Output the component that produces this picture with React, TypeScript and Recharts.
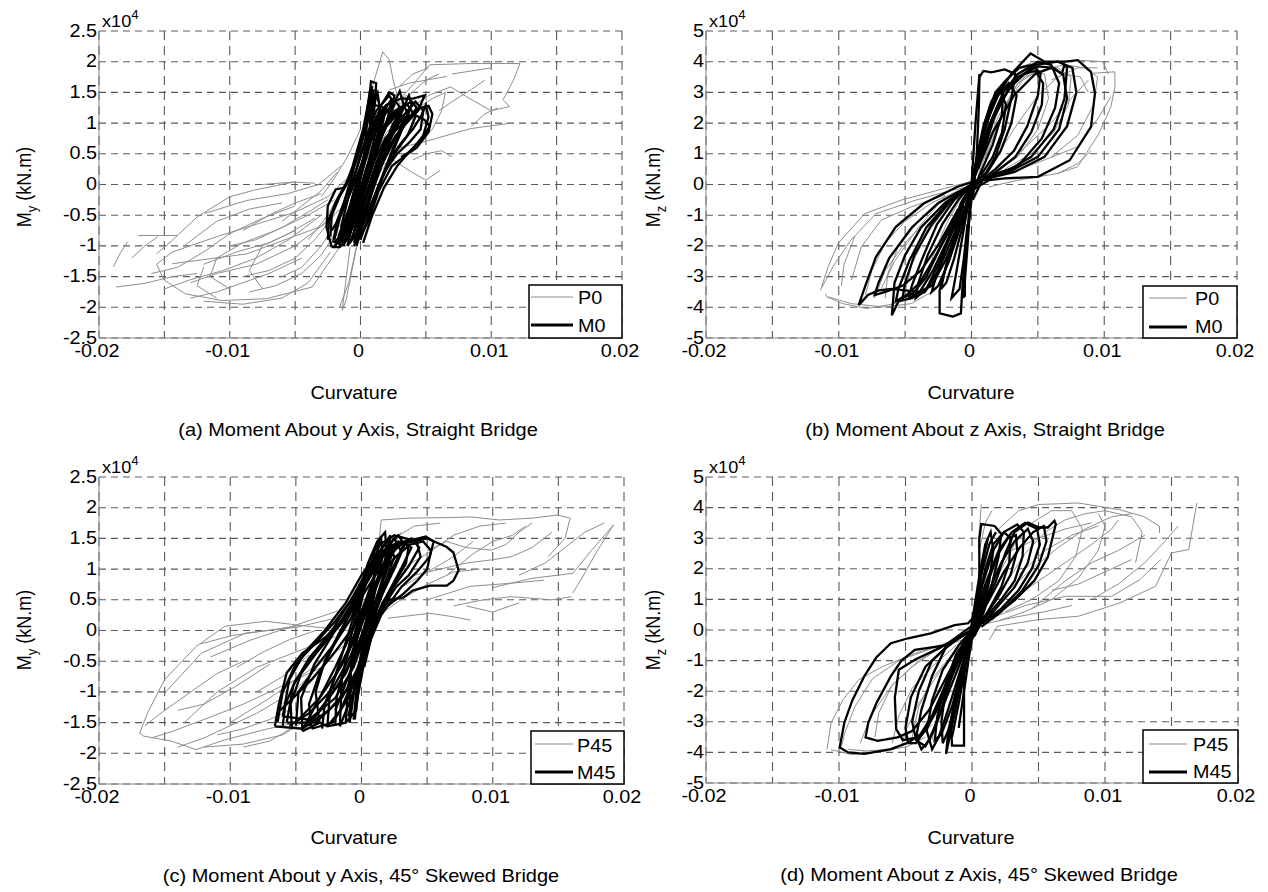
import React from 'react';
import { LineChart, Line, XAxis, YAxis, CartesianGrid } from 'recharts';

// points are [curvature x1e-3, moment x1e4 kN.m]
const curvatureTicks = [-0.02, -0.015, -0.01, -0.005, 0, 0.005, 0.01, 0.015, 0.02];
const myTicks = [-2.5, -2, -1.5, -1, -0.5, 0, 0.5, 1, 1.5, 2, 2.5];
const mzTicks = [-5, -4, -3, -2, -1, 0, 1, 2, 3, 4, 5];

// (a) straight bridge, My
const aP0 = [
  [[-0.8, -1.02], [-1.4, -2.05], [-1.1, -1.88], [-0.3, -1.02]],
  [[-0.3, -1.0], [-0.9, -1.6], [-1.6, -2.0]],
  [[-18.7, -1.67], [-16.5, -1.61], [-14.4, -1.5], [-12.5, -1.45]],
  [[-18.9, -1.34], [-18.4, -1.13], [-17.8, -0.93]],
  [[-17, -0.83], [-14, -0.83]],
  [[-15.6, -1.13], [-14.4, -0.91], [-12.5, -0.53], [-10, -0.2], [-8.1, -0.09], [-5.1, 0.04]],
  [[-7.5, 0.0], [-5.1, 0.04], [-3.5, 0.02]],
  [[-11.9, -0.47], [-8.7, -0.26], [-5.6, -0.15], [-3.2, 0.0], [-1.5, 0.3]],
  [[-1.2, -0.9], [-2.5, -1.3], [-3.7, -1.67], [-7.2, -1.86], [-10.6, -1.89], [-13.4, -1.78], [-15, -1.56], [-15.6, -1.3], [-14.4, -1.1], [-11, -0.85], [-8, -0.65], [-5, -0.45], [-2.5, -0.2], [-0.5, 0.2]],
  [[-14.4, -1.29], [-8.7, -1.13], [-3.1, -0.69], [-1, -0.3]],
  [[-13, -1.6], [-11, -1.45], [-8, -1.3], [-5, -1.0], [-2.5, -0.6]],
  [[-12, -1.9], [-9, -1.95], [-6, -1.85], [-4, -1.6], [-2.3, -1.1]],
  [[-10, -1.7], [-11.5, -1.5], [-11, -1.2], [-9, -0.95], [-6.5, -0.75], [-4, -0.5], [-2, -0.25]],
  [[-9, -1.5], [-7, -1.4], [-5, -1.2], [-3.5, -0.9], [-2, -0.5]],
  [[-7.5, -1.7], [-8.5, -1.4], [-7.5, -1.0], [-5.5, -0.8], [-3.5, -0.55]],
  [[-6, -1.5], [-4.5, -1.35], [-3, -1.0], [-1.8, -0.6]],
  [[-13.5, -1.0], [-11, -0.6], [-8.5, -0.4], [-6, -0.3]],
  [[-4, -0.9], [-2.5, -0.5], [-1, 0.1], [0.5, 0.7]],
  [[-16, -1.45], [-14, -1.35], [-12, -1.1], [-10, -0.8], [-7.5, -0.55], [-5, -0.35]],
  [[-15, -1.7], [-13, -1.55], [-10.5, -1.4], [-8, -1.2], [-5.5, -0.9], [-3, -0.5]],
  [[-13, -1.85], [-11, -1.75], [-9, -1.6], [-7, -1.45], [-4.5, -1.2]],
  [[-8.5, -1.75], [-6.5, -1.65], [-4.5, -1.45], [-3, -1.15], [-1.8, -0.75]],
  [[-10, -1.0], [-8, -0.9], [-6, -0.7], [-4, -0.45], [-2.5, -0.25]],
  [[-9, -0.75], [-7, -0.5], [-5, -0.3], [-3, -0.15]],
  [[-12, -1.3], [-9.5, -1.1], [-7, -0.95], [-5, -0.75]],
  [[-6, -0.6], [-4.5, -0.35], [-3, -0.1], [-1.8, 0.2]],
  [[-3, -0.2], [-2, 0.1], [-1, 0.45], [0, 0.9]],
  [[-17.5, -1.2], [-16.5, -1.0], [-15.5, -0.85]],
  [[-11, -1.85], [-12.5, -1.65], [-12, -1.35]],
  [[0.6, 1.3], [0.9, 1.59], [1.7, 2.16], [2.2, 2.03], [2.5, 1.7], [3.0, 1.3]],
  [[2.0, 1.2], [3.5, 1.5], [5.3, 1.95], [8.4, 1.97], [12.2, 1.97], [11.7, 1.7], [10.9, 1.38], [11.4, 1.27]],
  [[2.2, 1.54], [3.7, 1.65], [6.6, 1.76]],
  [[3.5, 1.2], [5.2, 1.45], [6.9, 1.59], [8.1, 1.43], [10, 1.2], [11.4, 1.27]],
  [[3, 0.6], [5.3, 0.72], [8.4, 0.91], [11.2, 0.99]],
  [[1.5, 0.3], [2.5, 0.4], [3.7, 0.23], [5.0, 0.07], [6.1, 0.23]],
  [[2.5, 0.9], [4, 1.2], [5.5, 1.4], [6.5, 1.5], [6.2, 1.2], [5.5, 0.9], [4.5, 0.7], [3.5, 0.5]],
  [[0.5, 0.4], [1.5, 1.0], [2.5, 1.35], [3.5, 1.45], [4.3, 1.3], [3.8, 0.9], [2.6, 0.5], [1.5, 0.2]],
  [[7, 1.8], [8.5, 1.85], [10, 1.9]],
  [[1, 0.6], [2, 1.0], [3, 1.3], [4.2, 1.55], [5, 1.7], [6, 1.8]],
  [[3, 1.6], [4, 1.8], [5.2, 1.9]],
  [[4, 0.4], [5, 0.5], [6.2, 0.55], [7, 0.45]],
  [[6, 1.2], [7, 1.35], [8.5, 1.55], [9.5, 1.7]],
  [[8.5, 0.95], [9.5, 1.15], [10.5, 1.25]],
  [[1.2, 0.5], [2, 0.85], [3, 1.05], [4, 1.15]],
];
const aM0 = [
  [[-2.2, -1.02], [-2.6, -0.7], [-2.5, -0.35], [-1.9, -0.08], [-1.2, -0.05], [-0.6, 0.3], [0.2, 0.9], [0.7, 1.45], [0.8, 1.68], [1.2, 1.65], [1.1, 1.3], [0.6, 0.7], [0, 0.1], [-0.6, -0.5], [-1.0, -0.9], [-1.6, -1.02], [-2.2, -1.02]],
  [[-1.8, -0.95], [-1.0, -0.55], [-0.2, 0.1], [0.6, 0.7], [1.5, 1.1], [2.5, 1.3], [3.0, 1.52], [3.3, 1.3], [2.8, 1.0], [2.0, 0.6], [1.2, 0.1], [0.4, -0.4], [-0.3, -0.8], [-1.0, -1.0]],
  [[-0.5, -0.95], [0.3, -0.3], [1.2, 0.35], [2.3, 0.8], [3.5, 1.05], [4.6, 1.25], [5.2, 1.28], [5.5, 1.15], [5.2, 0.85], [4.3, 0.6], [3.3, 0.45], [2.4, 0.3], [1.4, -0.1], [0.6, -0.6], [0, -0.85]],
  [[-1.4, -0.9], [-0.6, -0.3], [0.3, 0.5], [1.2, 1.1], [2.0, 1.3], [3.1, 1.4], [4.0, 1.4], [4.9, 1.45], [4.4, 1.2], [3.5, 1.0], [2.5, 0.7], [1.6, 0.3], [0.6, -0.3], [-0.2, -0.75]],
  [[-2.0, -0.9], [-1.4, -0.4], [-0.6, 0.2], [0, 0.7], [0.5, 1.1], [1.0, 1.3], [1.8, 1.25], [1.4, 0.9], [0.8, 0.4], [0.1, -0.2], [-0.6, -0.7], [-1.4, -0.95]],
  [[-0.3, -1.0], [0.4, -0.5], [1.3, 0.2], [2.2, 0.7], [3.2, 1.1], [4.2, 1.35], [4.8, 1.2], [4.6, 0.9], [3.8, 0.7], [2.8, 0.5], [1.8, 0.2], [0.8, -0.4], [0, -0.9]],
  [[-1.5, -0.7], [-0.8, -0.1], [0, 0.45], [0.9, 1.0], [1.8, 1.2], [2.4, 1.4], [2.0, 1.0], [1.2, 0.5], [0.3, -0.1], [-0.6, -0.6], [-1.2, -0.9]],
  [[-2.3, -0.85], [-2.2, -0.5], [-1.6, -0.2], [-0.8, 0.1], [0, 0.6], [0.6, 1.2], [1.0, 1.55], [0.9, 1.1], [0.3, 0.4], [-0.5, -0.3], [-1.3, -0.8], [-2.0, -1.0]],
  [[-1.0, -1.0], [-0.3, -0.4], [0.6, 0.3], [1.6, 0.9], [2.6, 1.2], [3.6, 1.3], [4.2, 1.1], [3.6, 0.8], [2.6, 0.5], [1.4, 0.0], [0.3, -0.6], [-0.5, -1.0]],
  [[-0.8, -0.6], [0, 0.1], [0.8, 0.7], [1.7, 1.1], [2.7, 1.35], [3.2, 1.2], [2.5, 0.85], [1.5, 0.45], [0.5, -0.1], [-0.3, -0.6]],
  [[-2.1, -0.95], [-1.8, -0.6], [-1.2, -0.25], [-0.4, 0.2], [0.4, 0.75], [1.2, 1.2], [2.2, 1.45], [2.6, 1.3], [1.8, 0.9], [0.9, 0.4], [0, -0.2], [-0.9, -0.7], [-1.7, -0.98]],
  [[-1.2, -0.95], [-0.5, -0.45], [0.3, 0.15], [1.1, 0.65], [2.0, 1.0], [3.0, 1.25], [3.9, 1.35], [4.3, 1.25], [3.7, 1.05], [2.7, 0.8], [1.7, 0.45], [0.7, -0.05], [-0.2, -0.6], [-0.8, -0.95]],
  [[-2.4, -0.6], [-1.9, -0.3], [-1.1, 0.0], [-0.3, 0.4], [0.4, 0.9], [0.9, 1.35], [1.3, 1.5], [1.5, 1.2], [1.0, 0.7], [0.3, 0.1], [-0.5, -0.45], [-1.4, -0.8], [-2.0, -0.95]],
  [[-0.6, -0.85], [0.2, -0.2], [1.0, 0.35], [1.9, 0.75], [2.9, 1.0], [4.0, 1.15], [4.9, 1.05], [5.3, 0.95], [4.7, 0.75], [3.8, 0.55], [2.8, 0.3], [1.8, -0.05], [0.9, -0.5], [0.2, -0.95]],
  [[-1.6, -1.0], [-1.1, -0.6], [-0.5, -0.1], [0.2, 0.4], [0.9, 0.9], [1.6, 1.3], [2.2, 1.5], [2.6, 1.45], [2.2, 1.15], [1.5, 0.75], [0.7, 0.25], [-0.1, -0.35], [-0.9, -0.85]],
  [[-2.2, -0.75], [-1.5, -0.5], [-0.7, -0.1], [0.1, 0.35], [0.8, 0.85], [1.4, 1.15], [2.0, 1.3], [1.7, 1.0], [1.0, 0.55], [0.2, 0.0], [-0.7, -0.55], [-1.5, -0.95]],
  [[-0.2, -0.7], [0.6, -0.1], [1.4, 0.4], [2.3, 0.85], [3.2, 1.2], [3.7, 1.45], [3.9, 1.3], [3.4, 1.0], [2.5, 0.6], [1.6, 0.1], [0.7, -0.4]],
  [[0.3, 0.5], [0.5, 1.0], [0.7, 1.4], [0.9, 1.6]],
  [[2.5, 0.5], [3.2, 0.7], [4, 0.9], [4.6, 1.1], [5.0, 1.3], [5.2, 1.1], [4.8, 0.8], [3.9, 0.55], [3.1, 0.45]],
  [[-1.9, -1.0], [-1.3, -0.7], [-0.8, -0.35], [-0.2, 0.05], [0.5, 0.55], [1.1, 0.95], [1.7, 1.1], [1.3, 0.7], [0.6, 0.2], [-0.2, -0.45], [-1.0, -0.9]],
  [[-0.9, -0.75], [-0.2, -0.2], [0.5, 0.3], [1.3, 0.75], [2.2, 1.05], [3.0, 1.2], [2.5, 0.95], [1.7, 0.6], [0.9, 0.15], [0, -0.5]],
  [[-2.5, -0.9], [-2.4, -0.55], [-1.8, -0.25], [-1.0, 0.05], [-0.2, 0.5], [0.4, 1.0], [0.8, 1.3], [0.7, 0.9], [0.1, 0.3], [-0.8, -0.35], [-1.7, -0.85]],
  [[-1.3, -1.0], [-0.8, -0.7], [-0.2, -0.25], [0.5, 0.2], [1.2, 0.6], [2.0, 0.95], [2.8, 1.15], [3.4, 1.1], [2.8, 0.8], [1.9, 0.45], [1.0, 0.0], [0.2, -0.5], [-0.5, -0.9]],
  [[-0.4, -0.95], [0.2, -0.55], [0.9, 0.0], [1.6, 0.5], [2.4, 0.95], [3.3, 1.3], [3.6, 1.15], [3.0, 0.8], [2.2, 0.4], [1.4, -0.05], [0.6, -0.55]],
  [[0.5, 1.2], [0.7, 1.5], [1.1, 1.45], [1.4, 1.35]],
];

// (b) straight bridge, Mz
const bP0 = [
  [[-0.5, -0.1], [-1.4, -0.18], [-4.2, -0.51], [-7.2, -0.95], [-9.1, -1.82], [-10.3, -2.58], [-11.4, -3.45]],
  [[-11.0, -3.55], [-10.9, -3.66], [-9.7, -3.88], [-7.9, -4.04], [-5.7, -3.88], [-4, -3.6], [-2.5, -3.0]],
  [[-11.3, -3.34], [-10.8, -2.68], [-10.05, -1.92], [-8.05, -0.95], [-5.3, -0.51], [-2.05, -0.13], [0, 0.1]],
  [[-9.05, -3.12], [-8.3, -2.03], [-6.8, -1.16], [-4.55, -0.73], [-2, -0.35]],
  [[-10.8, -3.66], [-9.05, -3.88], [-6.55, -3.99], [-4.55, -3.88], [-3, -3.5]],
  [[-8, -3.6], [-7.5, -2.8], [-6.5, -1.9], [-5, -1.2], [-3, -0.6], [-1, -0.2]],
  [[-6.5, -3.7], [-6.3, -2.9], [-5.5, -2.0], [-4, -1.2], [-2.2, -0.55]],
  [[-5, -3.5], [-4.5, -2.6], [-3.5, -1.7], [-2, -0.8], [-0.5, -0.1]],
  [[-3.5, -3.2], [-2.8, -2.2], [-1.8, -1.2], [-0.6, -0.3]],
  [[-1, -0.3], [-3, -1.0], [-5, -1.9], [-6.5, -2.8], [-7.3, -3.7]],
  [[-2, -0.4], [-4, -1.4], [-5.8, -2.5], [-6.8, -3.4]],
  [[-9.8, -3.3], [-9.6, -2.6], [-8.8, -1.7]],
  [[0.5, 0.3], [1.5, 1.5], [2.5, 2.5], [3.5, 3.3], [5, 3.9], [6.5, 4.0], [8.0, 4.05], [9.9, 4.0], [10.3, 3.6]],
  [[9.0, 3.62], [10.8, 3.67], [10.8, 3.18], [10.5, 2.53], [9.6, 1.66], [8.0, 0.58], [6.5, 0.36]],
  [[1.3, -0.08], [3.5, 0.14], [6.5, 0.36], [8.0, 0.68], [9.0, 1.1]],
  [[0.8, 0.2], [3, 0.4], [5.5, 0.8], [8, 1.23], [9.6, 2.2], [10.5, 2.86]],
  [[0, 0], [1, 1.2], [2, 2.4], [3, 3.2], [4.2, 3.7], [5.5, 3.6], [5.8, 2.8], [5, 1.8], [3.5, 0.9], [1.5, 0.3]],
  [[0.5, 0.5], [2, 2.2], [3.5, 3.3], [5, 3.7], [6.5, 3.8], [7.5, 3.5], [7.3, 2.6], [6.2, 1.7], [4.5, 1.0], [2.5, 0.5]],
  [[1, 0.8], [2.5, 2.5], [4, 3.5], [5.5, 3.75], [7, 3.9], [8.5, 3.8], [9.5, 3.5], [9.2, 2.6], [8, 1.6], [6, 0.9]],
  [[6, 3.4], [7, 3.6], [8.2, 3.5], [8.8, 3.0]],
  [[0.3, 0.8], [1.3, 2.2], [2.5, 3.4], [3.5, 3.8], [4.5, 3.95]],
  [[0.5, 0.1], [2, 1.0], [3.5, 2.0], [5, 2.9], [6.5, 3.5], [8, 3.8], [9.5, 3.8]],
  [[2, 0.4], [4, 1.2], [6, 2.0], [7.5, 2.8], [8.8, 3.4]],
];
const bM0 = [
  [[0, -0.2], [0.5, 0.8], [1.0, 1.8], [1.8, 2.8], [3.0, 3.6], [4.45, 4.27], [5.5, 4.0], [7.1, 4.0], [8.0, 4.05], [9.0, 3.67], [9.3, 2.97], [9.0, 1.88], [7.4, 0.79], [5.0, 0.25], [2.5, 0.2], [1.3, 0.14], [0, -0.2]],
  [[0.1, -0.5], [0.4, 1.0], [0.55, 2.5], [0.6, 3.5], [0.9, 3.7], [1.5, 3.65], [2.5, 3.75], [3.3, 3.6], [3.0, 2.8], [2.5, 1.8], [1.8, 0.9], [1.0, 0.3], [0.1, -0.5]],
  [[0, -0.3], [0.8, 1.5], [1.6, 2.6], [2.6, 3.4], [3.6, 3.8], [4.6, 3.9], [5.2, 3.6], [5.0, 2.9], [4.2, 1.9], [3.2, 1.1], [1.8, 0.5], [0.6, 0.1], [0, -0.3]],
  [[0, 0], [1.2, 1.8], [2.4, 3.0], [3.5, 3.6], [5.0, 4.0], [6.0, 3.9], [6.6, 3.3], [6.3, 2.5], [5.3, 1.5], [3.5, 0.6], [1.5, 0.3], [0, 0]],
  [[0, 0], [1.5, 2.0], [3.0, 3.3], [4.8, 3.9], [6.5, 4.0], [7.6, 3.8], [7.9, 3.0], [7.2, 1.9], [5.5, 0.9], [3.2, 0.4], [1.2, 0.2], [0, 0]],
  [[0, 0], [0.6, 1.2], [1.3, 2.2], [2.0, 2.9], [2.8, 3.3], [3.4, 2.9], [3.0, 2.0], [2.2, 1.1], [1.2, 0.4], [0, 0]],
  [[-0.2, -0.5], [0.4, 0.8], [1.0, 2.0], [1.8, 3.0], [2.4, 3.3], [2.3, 2.3], [1.6, 1.3], [0.8, 0.5], [-0.2, -0.5]],
  [[0.5, 0.5], [2, 2.6], [3.5, 3.5], [5.0, 3.85], [6.2, 3.8], [6.8, 3.6], [7, 3.9], [7.2, 3.8], [7.0, 2.8], [6.2, 1.8], [4.5, 0.9], [2.5, 0.4]],
  [[0, 0], [0.9, 1.4], [1.9, 2.5], [3.0, 3.2], [4.0, 3.6], [4.8, 3.7], [5.4, 3.3], [5.3, 2.6], [4.5, 1.7], [3.3, 0.9], [1.8, 0.4], [0.5, 0.05]],
  [[0, 0], [1.6, 1.7], [3.2, 2.9], [4.8, 3.6], [6.0, 3.8], [6.9, 3.6], [7.2, 2.8], [6.6, 1.8], [5.0, 0.9], [3.0, 0.45], [1.0, 0.15]],
  [[0, 0], [0.4, 0.9], [0.9, 1.9], [1.5, 2.7], [2.1, 3.1], [2.6, 2.6], [2.3, 1.7], [1.6, 0.9], [0.7, 0.3]],
  [[0.2, 0.1], [-1.1, -0.08], [-3.6, -0.62], [-5.7, -1.38], [-7.2, -2.36], [-8.0, -3.3], [-8.5, -3.93], [-7.8, -3.6], [-7.0, -3.45], [-6.0, -3.4], [-5.0, -3.45], [-4.0, -3.5], [-3.0, -3.3], [-2.0, -2.5], [-1.0, -1.5], [-0.3, -0.6], [0.2, 0.1]],
  [[0, 0], [-2.0, -0.6], [-3.8, -1.4], [-5.0, -2.3], [-5.8, -3.2], [-6.0, -4.26], [-5.5, -3.8], [-4.5, -3.7], [-3.5, -3.5], [-2.5, -2.8], [-1.5, -1.8], [-0.5, -0.8], [0, 0]],
  [[-0.3, -0.5], [-1.0, -1.5], [-1.8, -2.5], [-2.4, -3.45], [-2.4, -4.2], [-1.4, -4.3], [-0.8, -4.2], [-0.7, -3.45], [-0.4, -2.0], [0, -0.5]],
  [[0, 0], [-1.5, -0.5], [-3.0, -1.3], [-4.3, -2.3], [-5.0, -3.2], [-5.2, -3.7], [-4.4, -3.55], [-3.4, -3.0], [-2.4, -2.1], [-1.2, -1.1], [0, 0]],
  [[0, 0], [-1.0, -0.5], [-2.2, -1.3], [-3.3, -2.3], [-4.0, -3.2], [-4.2, -3.7], [-3.4, -3.4], [-2.5, -2.6], [-1.5, -1.6], [-0.6, -0.7]],
  [[0, 0], [-0.8, -0.6], [-1.6, -1.6], [-2.4, -2.6], [-3.0, -3.5], [-2.5, -3.3], [-1.7, -2.5], [-1.0, -1.6], [-0.3, -0.6]],
  [[0, -0.2], [-0.4, -1.0], [-0.8, -2.0], [-1.2, -3.0], [-1.5, -3.7], [-0.9, -3.4], [-0.6, -2.5], [-0.3, -1.3]],
  [[0, 0], [-1.8, -0.6], [-3.4, -1.4], [-4.7, -2.5], [-5.5, -3.4], [-5.7, -3.8], [-4.9, -3.6], [-3.9, -3.2], [-2.8, -2.4], [-1.6, -1.4], [-0.5, -0.4]],
  [[0, 0], [-1.3, -0.5], [-2.6, -1.3], [-3.7, -2.4], [-4.5, -3.3], [-4.7, -3.7], [-3.9, -3.5], [-2.9, -2.8], [-1.9, -1.9], [-0.9, -0.9]],
  [[0, 0], [-0.6, -0.6], [-1.2, -1.5], [-1.9, -2.6], [-2.3, -3.4], [-1.9, -3.2], [-1.3, -2.4], [-0.7, -1.4], [-0.2, -0.4]],
  [[0, 0], [-2.5, -0.6], [-4.5, -1.4], [-6.2, -2.4], [-7.0, -3.2], [-7.3, -3.6], [-6.5, -3.5], [-5.2, -3.3], [-3.8, -2.8], [-2.4, -1.9], [-1.0, -0.8]],
  [[-0.6, -3.7], [-0.3, -2], [0, 0], [0.3, 2], [0.6, 3.6]],
  [[-0.5, -3.66], [-0.5, -2.5], [-0.2, -1.0], [0.2, 0.5]],
];

// (c) 45 deg skewed bridge, My
const cP45 = [
  [[1.0, 0.7], [1.5, 1.8], [3.6, 1.83], [6.8, 1.84], [8.3, 1.85], [10.5, 1.8], [13, 1.83], [14.9, 1.88], [15.9, 1.83], [15.5, 1.5], [14.2, 1.2]],
  [[10, 0.7], [13, 0.85], [16.1, 0.93], [17.5, 1.3], [19.2, 1.72], [18, 1.31], [16.7, 0.82], [16.1, 0.61]],
  [[4, 0.9], [6, 1.0], [8, 1.1], [9.9, 1.15], [11.4, 1.2], [13, 1.35], [14.5, 1.6]],
  [[5, 0.5], [8.3, 0.72], [11.4, 0.77], [13.9, 0.82]],
  [[2, 0.2], [5.2, 0.28], [6.8, 0.23], [8.3, 0.17]],
  [[7, 0.4], [9.3, 0.5], [11.4, 0.55], [14.5, 0.5], [16, 0.55]],
  [[5, 1.3], [6.5, 1.45], [8, 1.35], [9.9, 1.31], [11, 1.4], [12, 1.6], [13, 1.75]],
  [[3, 1.0], [5, 1.25], [7, 1.55], [9, 1.7], [11, 1.75]],
  [[1, 0.2], [3, 0.5], [5, 0.75], [7, 0.95], [9, 1.0]],
  [[1, 1.0], [2.5, 1.5], [4, 1.7], [6, 1.75]],
  [[6.5, 0.9], [8.5, 1.25], [10, 1.45], [11.5, 1.55], [12.5, 1.7]],
  [[12, 0.9], [14, 1.1], [15.5, 1.35], [17, 1.6], [18.5, 1.75]],
  [[8, 0.4], [10, 0.3], [12, 0.45]],
  [[3, 0.7], [5, 0.95], [7, 1.2], [8.5, 1.45]],
  [[-1, 0], [-4.1, 0.07], [-7.3, 0.15], [-10.4, 0.07], [-12.6, -0.26], [-15, -0.8], [-16.3, -1.34], [-16.9, -1.67], [-16.6, -1.72], [-14.5, -1.8], [-12.6, -1.94], [-10.4, -1.78], [-7.3, -1.61], [-5, -1.5]],
  [[-15, -1.02], [-12.2, -0.37], [-8.8, -0.04], [-5, 0.05], [-2, 0.2]],
  [[-12.3, -0.22], [-9.8, -0.08], [-7.2, 0], [-4.7, 0.08]],
  [[-11.5, -0.43], [-8.5, -0.16], [-4.7, 0.11], [-1.65, 0.33]],
  [[-3, -0.6], [-6, -0.9], [-9, -1.2], [-12, -1.45], [-14.5, -1.65], [-16, -1.75]],
  [[-12, -1.9], [-9, -1.85], [-6, -1.7], [-3, -1.3]],
  [[-13.5, -1.5], [-11, -1.0], [-8, -0.6], [-5, -0.35], [-2, -0.1]],
  [[-10, -1.5], [-7, -1.1], [-4, -0.65], [-1, -0.2]],
  [[-14, -1.3], [-12, -1.2], [-9.5, -0.9], [-7, -0.55]],
  [[-9, -1.9], [-7, -1.8], [-5, -1.55]],
  [[-6, -1.2], [-3, -0.5], [0, 0.4], [2, 1.2], [3, 1.6]],
  [[-16.5, -1.55], [-15, -1.3], [-13, -1.0], [-11, -0.7], [-9, -0.5]],
  [[-14, -1.9], [-12, -1.75], [-10, -1.55], [-8, -1.35], [-6, -1.1]],
  [[-11, -1.7], [-9, -1.6], [-7, -1.45], [-5.5, -1.3]],
  [[-9.5, -0.6], [-7.5, -0.35], [-5.5, -0.15], [-3.5, 0.0]],
  [[-8, -1.0], [-6, -0.75], [-4, -0.4]],
];
const cM45 = [
  [[-6.6, -1.56], [-6.3, -1.2], [-5.7, -0.69], [-4.5, -0.37], [-2.7, -0.1], [-1.1, 0.25], [-0.1, 0.7], [0.5, 1.1], [1.2, 1.45], [1.8, 1.6], [1.9, 1.3], [1.6, 0.8], [1.0, 0.2], [0.3, -0.4], [-0.8, -0.9], [-2.5, -1.3], [-4.5, -1.6], [-6.6, -1.56]],
  [[-5.7, -1.5], [-5.2, -0.9], [-4.0, -0.45], [-2.4, -0.05], [-0.8, 0.5], [0.5, 1.0], [2.0, 1.35], [3.5, 1.45], [4.9, 1.53], [5.5, 1.45], [5.2, 1.2], [4.2, 0.95], [3.0, 0.7], [1.5, 0.25], [0, -0.5], [-1.5, -1.1], [-3.5, -1.5], [-5.7, -1.5]],
  [[-4.5, -1.64], [-4.6, -1.1], [-3.6, -0.55], [-2.0, 0.0], [-0.6, 0.5], [1.0, 1.1], [2.5, 1.4], [4.0, 1.45], [5.0, 1.5], [6.5, 1.36], [7.0, 1.27], [7.4, 0.98], [7.0, 0.81], [6.5, 0.73], [5.2, 0.73], [3.9, 0.65], [3.2, 0.54], [2.1, 0.5], [0.8, 0.07], [-0.1, -0.69], [-0.4, -1.3], [-1.2, -1.5], [-2.6, -1.56], [-3.2, -1.5], [-4.5, -1.64]],
  [[-3.2, -1.5], [-3.5, -1.0], [-2.8, -0.5], [-1.6, 0.0], [-0.3, 0.5], [0.8, 1.0], [1.8, 1.3], [2.8, 1.45], [3.6, 1.4], [3.4, 1.1], [2.6, 0.8], [1.6, 0.45], [0.5, -0.1], [-0.6, -0.8], [-1.6, -1.3], [-2.6, -1.56]],
  [[-2.6, -1.56], [-2.4, -1.0], [-1.5, -0.4], [-0.5, 0.3], [0.5, 0.9], [1.5, 1.25], [2.5, 1.5], [3.0, 1.3], [2.2, 0.9], [1.2, 0.4], [0.2, -0.3], [-0.6, -1.0], [-1.65, -1.56]],
  [[-1.65, -1.56], [-1.5, -0.8], [-0.6, 0.1], [0.3, 0.8], [1.0, 1.3], [1.5, 1.5], [1.6, 1.2], [1.0, 0.6], [0.2, -0.2], [-0.5, -0.9], [-0.9, -1.5]],
  [[-0.9, -1.5], [-0.8, -0.6], [-0.2, 0.3], [0.6, 1.0], [1.4, 1.4], [2.5, 1.55], [4.2, 1.45], [4.5, 1.2], [3.6, 0.9], [2.6, 0.7], [1.4, 0.3], [0.4, -0.3], [-0.4, -1.2]],
  [[-6.0, -1.4], [-5.5, -0.8], [-4.3, -0.35], [-2.8, 0], [-1.2, 0.45], [0, 0.9], [1.2, 1.25], [2.0, 1.45], [2.5, 1.2], [1.5, 0.6], [0.4, 0], [-0.6, -0.6], [-2.0, -1.1], [-4.0, -1.45], [-6.0, -1.4]],
  [[-5.0, -1.55], [-4.8, -1.0], [-3.5, -0.6], [-2.0, -0.2], [-0.8, 0.2], [0.2, 0.7], [1.0, 1.0], [0.8, 0.5], [0, -0.1], [-1.2, -0.7], [-2.8, -1.2], [-4.0, -1.55]],
  [[-0.5, -1.45], [-0.2, -0.6], [0.4, 0.2], [1.2, 0.8], [2.2, 1.2], [3.0, 1.45], [3.8, 1.35], [3.0, 1.0], [2.0, 0.6], [1.0, 0.1], [0.2, -0.6]],
  [[-6.4, -1.5], [-6.0, -1.0], [-5.0, -0.55], [-3.5, -0.2], [-2.0, 0.15], [-0.6, 0.55], [0.6, 1.0], [1.6, 1.35], [2.2, 1.55], [2.0, 1.2], [1.2, 0.75], [0.2, 0.2], [-0.8, -0.4], [-2.2, -0.95], [-4.0, -1.35], [-5.5, -1.55]],
  [[-3.8, -1.6], [-4.0, -1.2], [-3.2, -0.7], [-2.0, -0.2], [-0.8, 0.3], [0.4, 0.8], [1.6, 1.2], [2.8, 1.4], [3.8, 1.5], [4.4, 1.35], [3.6, 1.05], [2.4, 0.7], [1.2, 0.2], [0, -0.5], [-1.0, -1.1], [-2.2, -1.5], [-3.8, -1.6]],
  [[-2.0, -1.55], [-1.9, -1.1], [-1.2, -0.5], [-0.3, 0.1], [0.5, 0.6], [1.3, 1.1], [2.1, 1.4], [2.8, 1.55], [3.3, 1.4], [2.6, 1.05], [1.6, 0.6], [0.6, 0.0], [-0.3, -0.7], [-1.0, -1.4]],
  [[-5.3, -1.6], [-5.4, -1.2], [-4.6, -0.7], [-3.2, -0.3], [-1.8, 0.05], [-0.4, 0.4], [0.9, 0.85], [2.2, 1.25], [3.3, 1.45], [2.7, 1.15], [1.7, 0.75], [0.6, 0.25], [-0.5, -0.35], [-1.8, -0.9], [-3.4, -1.35], [-4.6, -1.6]],
  [[-1.2, -1.5], [-1.0, -0.9], [-0.4, -0.2], [0.3, 0.4], [1.0, 0.9], [1.8, 1.3], [2.3, 1.45], [1.9, 1.05], [1.1, 0.5], [0.3, -0.1], [-0.3, -0.8], [-0.6, -1.45]],
  [[0.5, 0.4], [1.5, 0.9], [2.6, 1.2], [3.7, 1.4], [4.7, 1.45], [5.3, 1.3], [5.0, 1.0], [4.2, 0.8], [3.2, 0.6], [2.0, 0.4]],
  [[-6.2, -1.3], [-5.2, -1.1], [-3.8, -0.8], [-2.2, -0.4], [-0.8, 0.0], [0.3, 0.45]],
  [[-6.0, -1.55], [-5.8, -1.2], [-5.0, -0.8], [-3.8, -0.45], [-2.4, -0.1], [-1.0, 0.3], [0.2, 0.75], [1.3, 1.15], [2.0, 1.3], [1.5, 0.95], [0.6, 0.45], [-0.4, -0.1], [-1.6, -0.6], [-3.2, -1.1], [-4.8, -1.45]],
  [[-4.2, -1.5], [-3.2, -1.1], [-2.0, -0.6], [-0.9, -0.1], [0.1, 0.35], [1.0, 0.8]],
  [[-3.0, -1.6], [-2.8, -1.2], [-2.0, -0.75], [-1.0, -0.3], [0, 0.2], [0.9, 0.7], [1.7, 1.05], [2.4, 1.3], [1.9, 0.95], [1.0, 0.45], [0.0, -0.15], [-1.0, -0.75], [-2.0, -1.3]],
];

// (d) 45 deg skewed bridge, Mz
const dP45 = [
  [[-1.2, -0.32], [-4.2, -0.75], [-6.7, -1.19], [-8.5, -1.62], [-9.7, -2.28], [-10.6, -3.04], [-10.9, -3.91]],
  [[-10.6, -3.91], [-9.1, -4.07], [-6.7, -3.97], [-4.8, -3.8], [-3.5, -3.5]],
  [[-0.5, -0.3], [-3, -0.6], [-5.5, -1.0], [-7.5, -1.6], [-8.8, -2.5], [-9.6, -3.4], [-9.8, -3.8]],
  [[-9.3, -3.9], [-8, -3.95], [-6, -3.9], [-4.5, -3.6], [-3, -3.1]],
  [[-7.3, -3.5], [-7, -2.7], [-6, -1.8], [-4.5, -1.2], [-2.5, -0.6]],
  [[-6, -3.7], [-5.5, -2.8], [-4.5, -1.9], [-3, -1.2], [-1.2, -0.5]],
  [[-4.5, -3.5], [-4, -2.5], [-3, -1.6], [-1.5, -0.8]],
  [[-3, -3.6], [-2.5, -2.6], [-1.6, -1.5], [-0.5, -0.5]],
  [[-2, -0.5], [-4, -1.0], [-6, -1.8], [-7.6, -2.8], [-8.4, -3.7]],
  [[-1, -0.6], [-2.5, -1.4], [-4, -2.4], [-5, -3.3], [-5.3, -3.8]],
  [[0.7, 4.1], [0.5, 3.0], [0.6, 2.0], [0.4, 1.0]],
  [[2, 3.3], [3.5, 3.9], [5.0, 4.1], [8.0, 4.15], [11.1, 3.93], [12.9, 3.71], [14.1, 3.39], [14.1, 3.17]],
  [[1.3, -0.32], [1.9, 0.12], [5, 0.34], [8, 0.45], [11.1, 0.88], [13.8, 1.43], [15.0, 2.52], [16.3, 2.63], [16.6, 3.39], [16.9, 4.15]],
  [[1.5, 0.4], [4, 0.8], [7, 1.1], [10.5, 1.1], [12.6, 1.64], [14.2, 2.3]],
  [[1, 0.5], [2.5, 1.5], [4, 2.5], [5.5, 3.2], [7, 3.6], [8.5, 3.8], [10, 3.9], [12, 3.7], [12.8, 3.2], [12.3, 2.2]],
  [[1.5, 0.3], [3, 1.0], [5, 1.6], [7, 2.2], [9, 2.8], [10.5, 3.3], [11, 3.6]],
  [[2, 0.3], [4, 0.6], [6, 1.0], [8, 1.7], [9.5, 2.6], [10, 3.4], [9.5, 3.8]],
  [[0.8, 0.5], [2, 1.8], [3.2, 2.8], [4.5, 3.5], [6, 3.9], [7.5, 3.9], [8.3, 3.3], [7.8, 2.4], [6.5, 1.6], [4.5, 1.0], [2.5, 0.6]],
  [[3, 2.6], [5, 3.0], [7, 3.3], [9, 3.5]],
  [[4.5, 0.7], [7, 1.6], [9, 2.2], [11, 2.6], [13, 3.1]],
  [[6, 1.3], [8, 1.5], [10, 1.9], [12, 2.3]],
  [[0.5, 2.5], [1, 3.5], [1.5, 3.9]],
  [[2.5, 1.2], [4.5, 2.0], [6.5, 2.7], [8.5, 3.3], [10.5, 3.7], [12, 3.8]],
  [[3.5, 1.8], [5.5, 2.6], [7.5, 3.1], [9.5, 3.4]],
  [[9, 1.0], [11, 1.5], [13, 2.2], [14.5, 2.9], [15.5, 3.4]],
  [[1, 0.2], [3, 0.4], [5.5, 0.6], [7.5, 0.8]],
];
const dM45 = [
  [[0.3, 0.5], [-0.3, 0.22], [-1.3, 0.16], [-3.1, -0.11], [-4.8, -0.27], [-6.1, -0.43], [-7.2, -0.9], [-8.1, -1.51], [-9.0, -2.3], [-9.6, -3.03], [-9.95, -3.84], [-9.3, -4.0], [-8.1, -4.05], [-6.1, -3.89], [-4.8, -3.68], [-3.5, -3.3], [-2.5, -2.5], [-1.5, -1.5], [-0.5, -0.5], [0.3, 0.5]],
  [[0.2, 0.2], [-2, -0.5], [-4.3, -0.65], [-5.3, -1.0], [-6.1, -1.51], [-7.2, -2.4], [-7.8, -3.03], [-8, -3.51], [-7.1, -3.62], [-5.6, -3.51], [-4.5, -3.3], [-3.2, -2.6], [-2, -1.6], [-0.8, -0.6], [0.2, 0.2]],
  [[0, 0], [-2.5, -0.6], [-4.3, -0.97], [-5.5, -1.3], [-5.8, -2.2], [-5.7, -3.24], [-5.2, -3.6], [-4.0, -3.5], [-3, -2.8], [-2, -1.8], [-1, -0.8], [0, 0]],
  [[0, 0], [-1.5, -0.4], [-3, -1.0], [-4.0, -2.0], [-4.5, -3.0], [-4.2, -3.6], [-3.5, -3.8], [-2.8, -3.2], [-2, -2.3], [-1, -1.2], [0, 0]],
  [[0, 0], [-1, -0.5], [-2.2, -1.3], [-3, -2.3], [-3.4, -3.3], [-3.0, -3.9], [-2.5, -3.5], [-1.8, -2.6], [-1.0, -1.5], [-0.3, -0.5]],
  [[0, 0], [-0.3, -0.5], [-0.6, -1.51], [-0.6, -3.78], [-1.5, -3.78], [-1.6, -3.0], [-1.2, -2.0], [-0.6, -1.0], [0, 0]],
  [[-0.5, -1], [-1.2, -2.5], [-1.95, -4.05], [-1.8, -3.4], [-1.0, -2.0], [-0.2, -0.5]],
  [[0, 0], [-0.8, -0.2], [-2, -0.6], [-3, -1.5], [-3.8, -2.6], [-4.2, -3.5], [-3.8, -3.9], [-3.2, -3.6], [-2.4, -2.7], [-1.5, -1.5], [-0.5, -0.4]],
  [[0, 0], [-1.2, -0.8], [-2.0, -1.8], [-2.6, -2.8], [-2.8, -3.6], [-2.3, -3.4], [-1.5, -2.5], [-0.8, -1.4], [0, 0]],
  [[0, 0], [-1.8, -0.5], [-3.5, -1.2], [-4.6, -2.2], [-5.0, -3.2], [-4.8, -3.7], [-4.2, -3.7], [-3.4, -3.2], [-2.4, -2.3], [-1.2, -1.1]],
  [[0, 0], [-0.6, -0.4], [-1.4, -1.1], [-2.0, -2.0], [-2.3, -3.0], [-2.2, -3.7], [-1.8, -3.3], [-1.2, -2.3], [-0.6, -1.2]],
  [[0, 0], [0.55, 1.0], [0.55, 2.97], [0.7, 3.46], [1.7, 3.4], [2.2, 3.14], [2.0, 2.4], [1.5, 1.5], [0.9, 0.6], [0.2, -0.2]],
  [[0, -0.3], [1.0, 0.8], [1.8, 1.6], [2.5, 2.5], [3.2, 3.2], [4.2, 3.51], [5.05, 3.35], [5.7, 3.35], [6.2, 3.57], [6.3, 3.46], [5.7, 2.38], [4.7, 1.62], [3.2, 0.97], [1.9, 0.54], [0.7, 0.22], [0, -0.3]],
  [[0, 0], [1, 1.5], [2, 2.6], [3, 3.2], [4, 3.5], [4.9, 3.3], [5.1, 2.8], [4.5, 2.0], [3.5, 1.3], [2.2, 0.7], [1.0, 0.3], [0, 0]],
  [[0, 0], [0.8, 1.5], [1.6, 2.6], [2.4, 3.2], [3.4, 3.45], [3.9, 3.2], [3.8, 2.4], [3.2, 1.6], [2.2, 1.0], [1.0, 0.4], [0, 0]],
  [[0, -0.2], [0.5, 1.0], [1.0, 2.0], [1.6, 2.8], [2.4, 3.2], [2.9, 3.0], [2.8, 2.2], [2.2, 1.4], [1.2, 0.6], [0.3, 0]],
  [[0, 0], [0.6, 0.7], [1.3, 1.7], [2.0, 2.5], [2.7, 3.0], [3.3, 3.1], [3.4, 2.6], [2.9, 1.8], [2.0, 1.1], [0.9, 0.4]],
  [[0, 0], [1.3, 1.0], [2.4, 1.9], [3.6, 2.7], [4.6, 3.2], [5.4, 3.4], [5.6, 2.9], [5.0, 2.1], [3.8, 1.3], [2.2, 0.6], [0.7, 0.1]],
  [[-0.3, -0.5], [0.2, 0.8], [0.6, 1.9], [1.0, 2.8], [1.4, 3.2], [1.6, 2.6], [1.3, 1.6], [0.8, 0.7], [0.2, -0.1]],
  [[-1.5, -3.5], [-1.0, -2.4], [-0.5, -1.2], [0, 0], [0.5, 1.3], [0.9, 2.4], [1.2, 3.0]],
  [[-1.0, -3.2], [-0.6, -2.0], [-0.2, -0.8], [0.3, 0.5], [0.7, 1.8], [1.3, 2.8], [1.8, 3.2]],
  [[0, 0], [1.2, 1.2], [2.2, 2.2], [3.2, 2.9], [4.2, 3.3], [4.6, 2.9], [4.2, 2.2], [3.2, 1.4], [2, 0.8], [0.8, 0.2]],
];

const FONT = '"Liberation Sans", Arial, Helvetica, sans-serif';
const FS = 18;
const SX = 1.1;

const panels = [
  { key: 'a', L: 99, T: 31, W: 523, H: 307, ticks: myTicks, sub: 'y', gray: aP0, black: aM0, gName: 'P0', bName: 'M0',
    caption: '(a) Moment About y Axis, Straight Bridge', capX: 358, capY: 436, curvX: 354, curvY: 399, yLabX: 31, yLabY: 187,
    legL: 529, legT: 285, lx1: 531, lx2: 573, tx: 578, l1: 297, t1: 304, l2: 325, t2: 332 },
  { key: 'b', L: 706, T: 31, W: 531, H: 307, ticks: mzTicks, sub: 'z', gray: bP0, black: bM0, gName: 'P0', bName: 'M0',
    caption: '(b) Moment About z Axis, Straight Bridge', capX: 985, capY: 436, curvX: 971, curvY: 399, yLabX: 660, yLabY: 187,
    legL: 1143, legT: 286, lx1: 1149, lx2: 1187, tx: 1195, l1: 298, t1: 305, l2: 327, t2: 333 },
  { key: 'c', L: 99, T: 477, W: 525, H: 307, ticks: myTicks, sub: 'y', gray: cP45, black: cM45, gName: 'P45', bName: 'M45',
    caption: '(c) Moment About y Axis, 45° Skewed Bridge', capX: 361, capY: 882, curvX: 354, curvY: 844, yLabX: 31, yLabY: 630,
    legL: 531, legT: 731, lx1: 535, lx2: 573, tx: 577, l1: 744, t1: 752, l2: 772, t2: 779 },
  { key: 'd', L: 706, T: 477, W: 532, H: 306, ticks: mzTicks, sub: 'z', gray: dP45, black: dM45, gName: 'P45', bName: 'M45',
    caption: '(d) Moment About z Axis, 45° Skewed Bridge', capX: 979, capY: 881, curvX: 971, curvY: 844, yLabX: 660, yLabY: 630,
    legL: 1143, legT: 730, lx1: 1149, lx2: 1187, tx: 1193, l1: 744, t1: 751, l2: 772, t2: 778 },
];

const toPts = (seg: number[][]) => seg.map(([c, m]) => ({ c: c / 1000, m }));

const XTick = (p: any) => {
  const k = Math.round(p.payload.value * 1000);
  if (k % 10 !== 0) return <g />;
  const s = k === 0 ? '0' : (k / 1000).toFixed(2);
  return (
    <text transform={`translate(${p.x - 2},${p.y + 19}) scale(${SX},1)`} textAnchor="middle" fontSize={FS} fontFamily={FONT} fill="#000">
      {s}
    </text>
  );
};

const YTick = (p: any) => (
  <text transform={`translate(${p.x - 2},${p.y + 5.5}) scale(${SX},1)`} textAnchor="end" fontSize={FS} fontFamily={FONT} fill="#000">
    {String(p.payload.value)}
  </text>
);

function Panel({ cfg }: any) {
  const { L, T, W, H, ticks, gray, black } = cfg;
  return (
    <div style={{ position: 'absolute', left: L - 99, top: T - 31 }}>
      <LineChart width={W + 129} height={H + 71} margin={{ top: 31, right: 30, bottom: 10, left: 0 }}>
        <CartesianGrid horizontal={false} stroke="#5a5a5a" strokeWidth={1.1} strokeDasharray="9 6" />
        <CartesianGrid vertical={false} stroke="#5a5a5a" strokeWidth={1.1} strokeDasharray="7 5" />
        <XAxis type="number" dataKey="c" domain={[-0.02, 0.02]} ticks={curvatureTicks} interval={0}
          allowDataOverflow height={30} tickSize={0} tickMargin={0} tick={XTick} stroke="#888" />
        <YAxis type="number" domain={[ticks[0], ticks[ticks.length - 1]]} ticks={ticks} interval={0}
          allowDataOverflow width={99} tickSize={0} tickMargin={0} tick={YTick} stroke="#888" />
        {gray.map((s: number[][], i: number) => (
          <Line key={'g' + i} data={toPts(s)} dataKey="m" type="linear" stroke="#8e8e8e" strokeWidth={1}
            dot={false} activeDot={false} isAnimationActive={false} />
        ))}
        {black.map((s: number[][], i: number) => (
          <Line key={'k' + i} data={toPts(s)} dataKey="m" type="linear" stroke="#000" strokeWidth={2.3}
            dot={false} activeDot={false} isAnimationActive={false} />
        ))}
      </LineChart>
    </div>
  );
}

function Labels({ cfg }: any) {
  const c = cfg;
  const R = c.L + c.W;
  const B = c.T + c.H;
  return (
    <g fontFamily={FONT} fill="#000">
      <text transform={`translate(${c.L + 3},${c.T - 4}) scale(${SX},1)`} fontSize={16.5}>
        x10<tspan fontSize={12} dy={-8}>4</tspan>
      </text>
      <text transform={`translate(${c.curvX},${c.curvY}) scale(${SX},1)`} textAnchor="middle" fontSize={FS}>Curvature</text>
      <text transform={`translate(${c.capX},${c.capY}) scale(1.11,1)`} textAnchor="middle" fontSize={FS}>{c.caption}</text>
      <text transform={`translate(${c.yLabX},${c.yLabY}) rotate(-90) scale(1,${SX})`} textAnchor="middle" fontSize={FS}>
        M<tspan fontSize={13} dy={5}>{c.sub}</tspan><tspan dy={-5}> (kN.m)</tspan>
      </text>
      <rect x={c.legL} y={c.legT} width={R - c.legL} height={B - c.legT} fill="#fff" stroke="#000" strokeWidth={1.5} />
      <line x1={c.lx1} x2={c.lx2} y1={c.l1} y2={c.l1} stroke="#8e8e8e" strokeWidth={1.2} />
      <line x1={c.lx1} x2={c.lx2} y1={c.l2} y2={c.l2} stroke="#000" strokeWidth={3} />
      <text transform={`translate(${c.tx},${c.t1}) scale(${SX},1)`} fontSize={FS}>{c.gName}</text>
      <text transform={`translate(${c.tx},${c.t2}) scale(${SX},1)`} fontSize={FS}>{c.bName}</text>
    </g>
  );
}

export default function App() {
  return (
    <div style={{ position: 'absolute', left: 0, top: 0, width: 1268, height: 892, background: '#fff', overflow: 'hidden' }}>
      {panels.map((p) => <Panel key={p.key} cfg={p} />)}
      <svg width={1268} height={892} style={{ position: 'absolute', left: 0, top: 0, pointerEvents: 'none' }}>
        {panels.map((p) => <Labels key={p.key} cfg={p} />)}
      </svg>
    </div>
  );
}
